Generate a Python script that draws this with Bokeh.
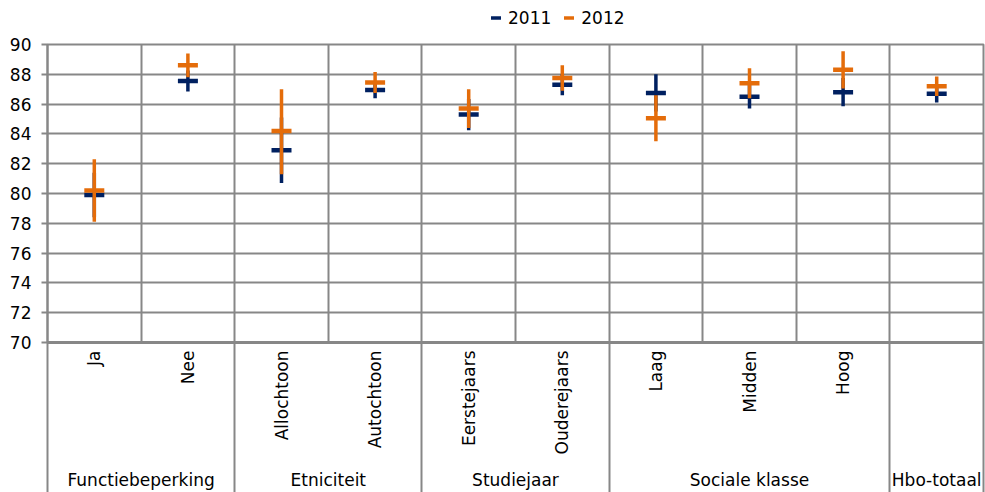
import numpy as np
from math import pi
from bokeh.plotting import figure
from bokeh.layouts import column
from bokeh.models import (Range1d, FixedTicker, LinearAxis, Legend, LegendItem,
                          Grid, ColumnDataSource)
from bokeh.embed import file_html
from bokeh.resources import INLINE

# ---- data -------------------------------------------------------------
categories = ["Ja", "Nee", "Allochtoon", "Autochtoon", "Eerstejaars",
              "Ouderejaars", "Laag", "Midden", "Hoog", ""]
groups = ["Functiebeperking", "Etniciteit", "Studiejaar", "Sociale klasse", "Hbo-totaal"]
group_sizes = [2, 2, 2, 3, 1]
series = ["2011", "2012"]

mean_2011 = [79.9, 87.55, 82.9, 86.95, 85.3, 87.3, 86.75, 86.5, 86.8, 86.7]
low_2011 = [78.4, 86.85, 80.7, 86.4, 84.25, 86.6, 85.5, 85.7, 85.85, 86.1]
high_2011 = [81.4, 88.25, 85.1, 87.5, 86.35, 88.0, 88.0, 87.3, 87.75, 87.3]

mean_2012 = [80.2, 88.6, 84.2, 87.45, 85.7, 87.75, 85.05, 87.4, 88.3, 87.2]
low_2012 = [78.1, 87.8, 81.3, 86.75, 84.4, 86.9, 83.5, 86.4, 87.05, 86.55]
high_2012 = [82.3, 89.4, 87.0, 88.15, 87.0, 88.6, 86.6, 88.4, 89.55, 87.85]

y_ticks = list(range(70, 91, 2))

# ---- style ------------------------------------------------------------
NAVY = "#002060"
ORANGE = "#E46C0A"
GRID = "#878787"
FONT = "DejaVu Sans"
FS = "17px"

W = 985
LH = 32            # legend strip height
H = 492 - LH       # main figure height
BL, BR, BT, BB = 47, 2, 12, 150

x = np.arange(1, len(categories) + 1)
boundaries = np.arange(0.5, len(categories) + 1, 1.0)
group_edges = 0.5 + np.concatenate([[0], np.cumsum(group_sizes)])
group_edges = np.minimum(group_edges, len(categories) + 0.5 - 1e-6)
group_centers = (group_edges[:-1] + group_edges[1:]) / 2
label_ticks = [int(xi) for xi, c in zip(x, categories) if c]
label_map = {int(xi): c for xi, c in zip(x, categories) if c}

p = figure(width=W, height=H,
           x_range=Range1d(0.5, len(categories) + 0.5),
           y_range=Range1d(70, 90),
           x_axis_type=None,
           output_backend="svg", toolbar_location=None,
           min_border_left=BL, min_border_right=BR,
           min_border_top=BT, min_border_bottom=BB)

p.outline_line_color = GRID
p.outline_line_width = 2

# y axis
p.yaxis.ticker = FixedTicker(ticks=y_ticks)
p.yaxis.major_tick_out = 6
p.yaxis.major_tick_in = 0
p.yaxis.minor_tick_line_color = None
p.yaxis.major_tick_line_color = GRID
p.yaxis.major_tick_line_width = 2
p.yaxis.axis_line_color = GRID
p.yaxis.axis_line_width = 2
p.yaxis.major_label_text_font = FONT
p.yaxis.major_label_text_font_size = FS
p.yaxis.major_label_text_color = "black"
p.yaxis.major_label_standoff = 10

p.ygrid.grid_line_color = GRID
p.ygrid.grid_line_width = 2

p.add_layout(Grid(dimension=0, ticker=FixedTicker(ticks=list(boundaries)),
                  grid_line_color=GRID, grid_line_width=2))

# category axis (group separators drawn as long minor ticks)
cat_axis = LinearAxis(
    ticker=FixedTicker(ticks=label_ticks,
                       minor_ticks=[float(v) for v in group_edges]),
    major_label_overrides=label_map,
    major_label_orientation=pi / 2,
    major_tick_out=0, major_tick_in=0,
    minor_tick_out=0, minor_tick_in=-BB,
    minor_tick_line_color=GRID, minor_tick_line_width=2,
    axis_line_color=GRID, axis_line_width=3,
    major_label_standoff=8,
    major_label_text_font=FONT, major_label_text_font_size=FS,
    major_label_text_color="black")
p.add_layout(cat_axis, "below")

grp_axis = LinearAxis(
    ticker=FixedTicker(ticks=[float(c) for c in group_centers]),
    major_label_overrides={float(c): g for c, g in zip(group_centers, groups)},
    major_tick_out=0, major_tick_in=0,
    minor_tick_line_color=None, major_tick_line_color=None,
    axis_line_color=None,
    major_label_standoff=12,
    major_label_text_font=FONT, major_label_text_font_size=FS,
    major_label_text_color="black")
p.add_layout(grp_axis, "below")

# marks
s11 = ColumnDataSource(dict(x=x, m=mean_2011, lo=low_2011, hi=high_2011))
s12 = ColumnDataSource(dict(x=x, m=mean_2012, lo=low_2012, hi=high_2012))

p.segment("x", "lo", "x", "hi", source=s11, line_color=NAVY, line_width=3.5)
p.scatter("x", "m", source=s11, marker="dash", size=20,
          line_color=NAVY, line_width=4.5)
p.segment("x", "lo", "x", "hi", source=s12, line_color=ORANGE, line_width=3.5)
p.scatter("x", "m", source=s12, marker="dash", size=20,
          line_color=ORANGE, line_width=4.5)

# ---- legend strip above the chart --------------------------------------
# proxy renderers: one point each, outside the strip's visible range
lf = figure(width=W, height=LH, x_range=Range1d(0, 1), y_range=Range1d(0, 1),
            x_axis_type=None, y_axis_type=None,
            output_backend="svg", toolbar_location=None, min_border=0)
lf.outline_line_color = None
items = []
for name, col, means in zip(series, [NAVY, ORANGE], [mean_2011, mean_2012]):
    r = lf.scatter(x=[float(x[0])], y=[means[0]], marker="dash", size=10,
                   line_color=col, line_width=3.5)
    items.append(LegendItem(label=name, renderers=[r]))

legend = Legend(items=items, orientation="horizontal", location=(436, 2),
                border_line_color=None, background_fill_alpha=0,
                label_text_font=FONT, label_text_font_size=FS,
                label_text_color="black",
                glyph_width=25, glyph_height=25, spacing=5,
                padding=0, margin=0, label_standoff=0)
lf.add_layout(legend, "center")

layout = column(lf, p, spacing=0)
open("out.html", "w").write(file_html(layout, INLINE))
